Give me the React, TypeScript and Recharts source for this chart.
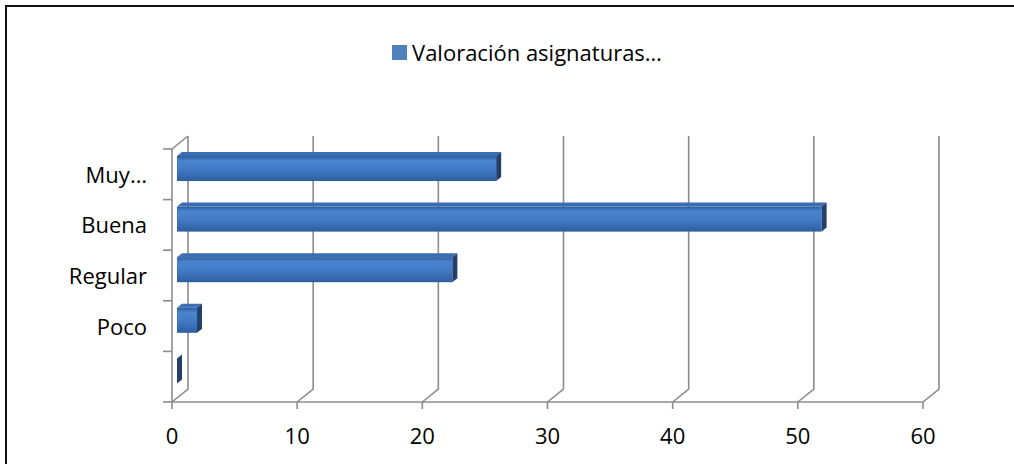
import React from 'react';
import { BarChart, Bar, XAxis, YAxis, CartesianGrid, Legend } from 'recharts';

const categories = ['Muy…', 'Buena', 'Regular', 'Poco', ''];
const values = [25.5, 51.5, 22, 1.6, 0];
const xTicks = [0, 10, 20, 30, 40, 50, 60];
const seriesName = 'Valoración asignaturas…';

const data = categories.map((name, i) => ({ name, value: values[i] }));

const W = 1014;
const H = 464;
const PLOT_TOP = 149;
const PLOT_LEFT = 172;
const PLOT_RIGHT = 923;
const PLOT_BOTTOM = 402;
const BAND = (PLOT_BOTTOM - PLOT_TOP) / categories.length;

const WALL_DX = 16;
const WALL_DY = -13;
const BAR_DX = 5;
const BAR_DY = -6;
const CAP_DX = 5;
const CAP_DY = -4;

const GRID = '#8c8c8c';
const FONT = '"Open Sans", sans-serif';

const Bar3D = (props: any) => {
  const { x, y, width, height, index } = props;
  const w = Math.max(width || 0, 0);
  const fx = x + BAR_DX;
  const fy = y + BAR_DY;
  const gid = `bg-${index}`;
  return (
    <g>
      <defs>
        <linearGradient id={gid} x1="0" y1="0" x2="0" y2="1">
          <stop offset="0%" stopColor="#2c5a99" />
          <stop offset="18%" stopColor="#4a84cf" />
          <stop offset="55%" stopColor="#4179c4" />
          <stop offset="100%" stopColor="#2e5e9f" />
        </linearGradient>
      </defs>
      {w > 0 && (
        <path
          d={`M${fx},${fy} L${fx + w},${fy} L${fx + w + CAP_DX},${fy + CAP_DY} L${fx + CAP_DX},${fy + CAP_DY} Z`}
          fill="#3a6db2"
        />
      )}
      {w > 0 && <rect x={fx} y={fy} width={w} height={height} fill={`url(#${gid})`} />}
      <path
        d={`M${fx + w},${fy} L${fx + w + CAP_DX},${fy + CAP_DY} L${fx + w + CAP_DX},${fy + height + CAP_DY} L${fx + w},${fy + height} Z`}
        fill="#233f6b"
      />
    </g>
  );
};

const gridLine = (p: any) => {
  const { x1, y1, y2, index } = p;
  const parts = [
    `M${x1 + WALL_DX},${y1 + WALL_DY} L${x1 + WALL_DX},${y2 + WALL_DY} L${x1},${y2}`,
  ];
  if (index === 0) {
    parts.push(`M${x1},${y1} L${x1 + WALL_DX},${y1 + WALL_DY}`);
  }
  return (
    <path
      key={`g-${index}-${x1}`}
      d={parts.join(' ')}
      stroke={GRID}
      strokeWidth={1.6}
      fill="none"
    />
  );
};

const CategoryTick = (props: any) => {
  const { x, y, payload, index, visibleTicksCount } = props;
  const lineX1 = x + 16;
  const lineX2 = x + 25;
  const top = y - BAND / 2;
  const bottom = y + BAND / 2;
  const last = index === (visibleTicksCount ?? categories.length) - 1;
  return (
    <g>
      <line x1={lineX1} x2={lineX2} y1={top} y2={top} stroke={GRID} strokeWidth={1.6} />
      {last && <line x1={lineX1} x2={lineX2} y1={bottom} y2={bottom} stroke={GRID} strokeWidth={1.6} />}
      <text
        x={x}
        y={y + 8.5}
        textAnchor="end"
        fontFamily={FONT}
        fontSize={22}
        fill="#000"
      >
        {payload.value}
      </text>
    </g>
  );
};

const LegendContent = () => (
  <div
    style={{
      display: 'flex',
      justifyContent: 'center',
      alignItems: 'center',
      paddingLeft: 40,
      fontFamily: FONT,
      fontSize: 22,
      color: '#000',
      lineHeight: '30px',
    }}
  >
    <span
      style={{
        display: 'inline-block',
        width: 15,
        height: 15,
        background: '#4f81bd',
        marginRight: 5,
      }}
    />
    <span>{seriesName}</span>
  </div>
);

export default function App() {
  return (
    <div
      style={{
        position: 'absolute',
        left: 0,
        top: 0,
        width: W,
        height: H,
        overflow: 'hidden',
        background: '#fff',
      }}
    >
      <div
        style={{
          position: 'absolute',
          left: 5,
          top: 5,
          width: W + 20,
          height: H + 20,
          border: '2px solid #111',
          boxSizing: 'border-box',
        }}
      />
      <div style={{ position: 'absolute', left: 0, top: 0 }}>
        <BarChart
          width={W}
          height={H}
          data={data}
          layout="vertical"
          margin={{ top: PLOT_TOP, right: W - PLOT_RIGHT, bottom: 0, left: 0 }}
          barSize={25}
        >
          <CartesianGrid horizontal={false} vertical={gridLine} />
          <XAxis
            type="number"
            domain={[0, 60]}
            ticks={xTicks}
            interval={0}
            height={H - PLOT_BOTTOM}
            axisLine={{ stroke: GRID, strokeWidth: 1.6 }}
            tickLine={{ stroke: GRID, strokeWidth: 1.6 }}
            tickSize={7}
            tickMargin={19}
            tick={{ fontFamily: FONT, fontSize: 22, fill: '#000' }}
          />
          <YAxis
            type="category"
            dataKey="name"
            width={PLOT_LEFT}
            interval={0}
            axisLine={{ stroke: GRID, strokeWidth: 1.6 }}
            tickLine={{ stroke: 'none' }}
            tickSize={9}
            tickMargin={16}
            tick={<CategoryTick />}
          />
          <Legend
            layout="vertical"
            align="center"
            verticalAlign="middle"
            wrapperStyle={{ top: 37, left: 0, width: W }}
            content={<LegendContent />}
          />
          <Bar dataKey="value" name={seriesName} shape={<Bar3D />} isAnimationActive={false} />
        </BarChart>
      </div>
    </div>
  );
}
